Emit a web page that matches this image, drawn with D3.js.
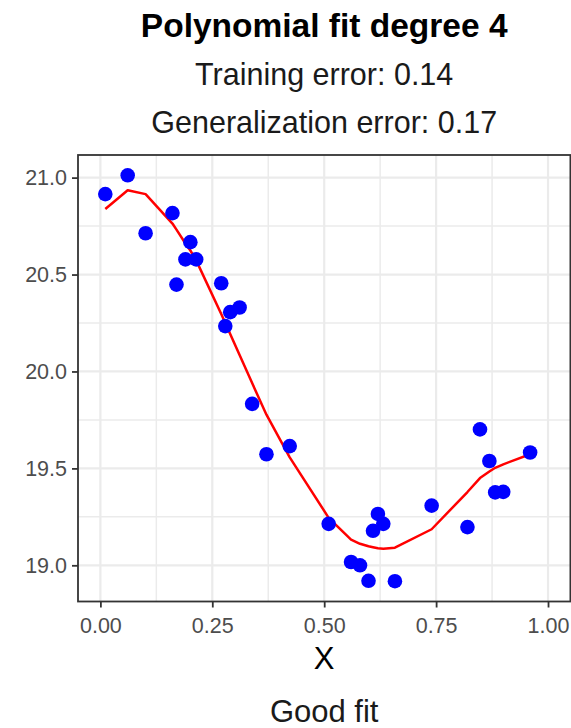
<!DOCTYPE html>
<html>
<head>
<meta charset="utf-8">
<script src="https://cdn.jsdelivr.net/npm/d3@7"></script>
<style>
  html, body { margin: 0; padding: 0; background: #ffffff; }
  svg { display: block; font-family: "Liberation Sans", Arial, Helvetica, sans-serif; }
</style>
</head>
<body>
<svg id="chart" width="571" height="728"></svg>
<script>
// Observed sample (x, y)
const xValues = [0.011, 0.061, 0.101, 0.161, 0.170, 0.190, 0.201, 0.214, 0.270, 0.279,
                 0.290, 0.311, 0.339, 0.371, 0.423, 0.510, 0.560, 0.580, 0.599, 0.609,
                 0.620, 0.632, 0.658, 0.740, 0.820, 0.848, 0.869, 0.882, 0.900, 0.960];
const yValues = [20.915, 21.012, 20.713, 20.817, 20.448, 20.578, 20.667, 20.578, 20.455, 20.234,
                 20.306, 20.330, 19.833, 19.573, 19.615, 19.214, 19.017, 19.000, 18.920, 19.178,
                 19.265, 19.214, 18.918, 19.308, 19.197, 19.701, 19.538, 19.376, 19.379, 19.582];
// Degree-4 polynomial predictions at the same x positions
const fitValues = [20.838, 20.935, 20.915, 20.763, 20.732, 20.660, 20.624, 20.573, 20.296, 20.250,
                   20.193, 20.085, 19.940, 19.777, 19.557, 19.245, 19.132, 19.111, 19.098, 19.093,
                   19.088, 19.086, 19.091, 19.186, 19.378, 19.450, 19.484, 19.503, 19.521, 19.573];

const xTicks = [0, 0.25, 0.5, 0.75, 1.0];
const xMinor = [0.125, 0.375, 0.625, 0.875];
const yTicks = [19.0, 19.5, 20.0, 20.5, 21.0];
const yMinor = [19.25, 19.75, 20.25, 20.75];

const titleText = "Polynomial fit degree 4";
const subtitleLines = ["Training error: 0.14", "Generalization error: 0.17"];
const xTitle = "X";
const captionText = "Good fit";

const svg = d3.select("#chart");
const panel = { left: 78, right: 570.4, top: 155, bottom: 601.5 };

// ggplot-style 5% expansion around the data ranges
const xDom = [0, 1];
const xPad = (xDom[1] - xDom[0]) * 0.05;
const yExt = d3.extent(yValues.concat(fitValues));
const yPad = (yExt[1] - yExt[0]) * 0.05;

const x = d3.scaleLinear().domain([xDom[0] - xPad, xDom[1] + xPad]).range([panel.left, panel.right]);
const y = d3.scaleLinear().domain([yExt[0] - yPad, yExt[1] + yPad]).range([panel.bottom, panel.top]);

const grid = svg.append("g");
// minor grid
grid.selectAll("line.vmin").data(xMinor).join("line")
  .attr("x1", d => x(d)).attr("x2", d => x(d))
  .attr("y1", panel.top).attr("y2", panel.bottom)
  .attr("stroke", "#ebebeb").attr("stroke-width", 1.5);
grid.selectAll("line.hmin").data(yMinor).join("line")
  .attr("y1", d => y(d)).attr("y2", d => y(d))
  .attr("x1", panel.left).attr("x2", panel.right)
  .attr("stroke", "#ebebeb").attr("stroke-width", 1.5);
// major grid
grid.selectAll("line.vmaj").data(xTicks).join("line")
  .attr("x1", d => x(d)).attr("x2", d => x(d))
  .attr("y1", panel.top).attr("y2", panel.bottom)
  .attr("stroke", "#ebebeb").attr("stroke-width", 2.2);
grid.selectAll("line.hmaj").data(yTicks).join("line")
  .attr("y1", d => y(d)).attr("y2", d => y(d))
  .attr("x1", panel.left).attr("x2", panel.right)
  .attr("stroke", "#ebebeb").attr("stroke-width", 2.2);

// fitted curve
const line = d3.line().x((d, i) => x(xValues[i])).y(d => y(d));
svg.append("path")
  .datum(fitValues)
  .attr("d", line)
  .attr("fill", "none")
  .attr("stroke", "#ff0000")
  .attr("stroke-width", 2.5)
  .attr("stroke-linejoin", "round");

// sample points
svg.append("g").selectAll("circle").data(xValues).join("circle")
  .attr("cx", d => x(d))
  .attr("cy", (d, i) => y(yValues[i]))
  .attr("r", 7.3)
  .attr("fill", "#0000ff");

// panel border
svg.append("rect")
  .attr("x", panel.left).attr("y", panel.top)
  .attr("width", panel.right - panel.left).attr("height", panel.bottom - panel.top)
  .attr("fill", "none").attr("stroke", "#333333").attr("stroke-width", 1.8);

// axes
const xAxis = d3.axisBottom(x).tickValues(xTicks).tickFormat(d3.format(".2f")).tickSize(6).tickPadding(10);
const yAxis = d3.axisLeft(y).tickValues(yTicks).tickFormat(d3.format(".1f")).tickSize(6).tickPadding(5);

const gx = svg.append("g").attr("transform", `translate(0,${panel.bottom})`).call(xAxis);
const gy = svg.append("g").attr("transform", `translate(${panel.left},0)`).call(yAxis);
[gx, gy].forEach(g => {
  g.select(".domain").remove();
  g.selectAll(".tick line").attr("stroke", "#333333").attr("stroke-width", 1.8);
  g.selectAll(".tick text").attr("fill", "#4d4d4d")
    .style("font-size", "21.5px").style("font-family", "Liberation Sans, Arial, sans-serif");
});

// titles
const cx = (panel.left + panel.right) / 2;
svg.append("text").attr("x", cx).attr("y", 37).attr("text-anchor", "middle")
  .style("font-size", "33.5px").style("font-weight", "bold").attr("fill", "#000")
  .text(titleText);
svg.append("text").attr("x", cx).attr("y", 85).attr("text-anchor", "middle")
  .style("font-size", "30.5px").attr("fill", "#1a1a1a")
  .text(subtitleLines[0]);
svg.append("text").attr("x", cx).attr("y", 133).attr("text-anchor", "middle")
  .style("font-size", "30.5px").attr("fill", "#1a1a1a")
  .text(subtitleLines[1]);
svg.append("text").attr("x", cx).attr("y", 669).attr("text-anchor", "middle")
  .style("font-size", "31px").attr("fill", "#000")
  .text(xTitle);
svg.append("text").attr("x", cx).attr("y", 722).attr("text-anchor", "middle")
  .style("font-size", "31px").attr("fill", "#1a1a1a")
  .text(captionText);
</script>
</body>
</html>
